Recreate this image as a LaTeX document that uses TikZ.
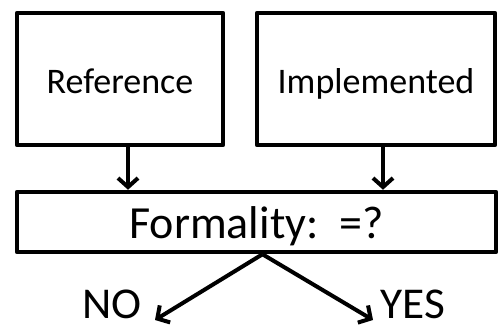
\documentclass[tikz,border=0pt]{standalone}
\usepackage{fontspec}
\setmainfont{Carlito}
\usetikzlibrary{arrows.meta}
\begin{document}
\begin{tikzpicture}[x=1pt,y=1pt,>={Straight Barb[length=9pt,width=20pt]}, line join=round,
    box/.style={draw,line width=4.5pt,inner sep=0pt},
    small/.style={font=\fontsize{36}{40}\selectfont,text height=29pt,text depth=0pt},
    big/.style={font=\fontsize{46}{50}\selectfont},
    answer/.style={font=\fontsize{44}{46}\selectfont,inner sep=0pt,xscale=1.03,transform shape}]
    \def\lw{4pt}
    \useasboundingbox (0,0) rectangle (500,324);
    \node[box,small,minimum width=206pt,minimum height=132pt] (ref) at (120,245) {Reference};
    \node[box,small,minimum width=238pt,minimum height=132pt] (impl) at (376,245) {Implemented};
    \node[box,big,text height=32pt,text depth=0pt,minimum width=479pt,minimum height=60pt] (fml) at (256.5,102) {Formality:\ \ =?};
    \node[answer] (no) at (112,20) {NO};
    \node[answer] (yes) at (413,20) {YES};
    \coordinate (noend) at (155,4);
    \coordinate (yesend) at (373,4);
    \draw[->,line width=\lw] ([xshift=8pt]ref.south) -- ([xshift=8pt]ref.south |- fml.north);
    \draw[->,line width=\lw] ([xshift=7pt]impl.south) -- ([xshift=7pt]impl.south |- fml.north);
    \draw[->,line width=\lw] ([xshift=6pt]fml.south) -- (noend);
    \draw[->,line width=\lw] ([xshift=6pt]fml.south) -- (yesend);
\end{tikzpicture}
\end{document}
